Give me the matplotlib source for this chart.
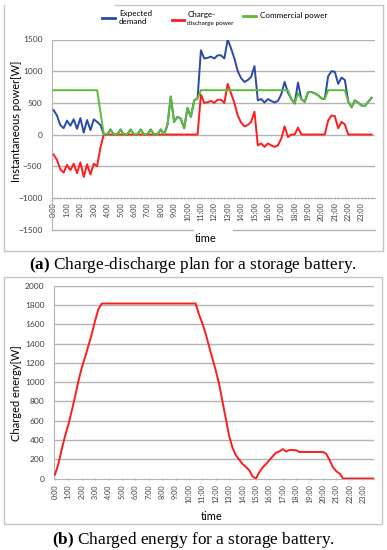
import matplotlib
matplotlib.use("Agg")
import matplotlib.pyplot as plt
from matplotlib.lines import Line2D
from matplotlib.patches import Rectangle
import numpy as np

plt.rcParams.update({
    "font.family": ["Lato", "DejaVu Sans"],
    "mathtext.fontset": "custom",
    "mathtext.rm": "Liberation Serif",
    "mathtext.bf": "Liberation Serif:bold",
})

# time of day in hours, 15-minute steps (0:00 .. 23:45)
hours = np.arange(0, 24, 0.25)
hour_labels = [f"{h}:00" for h in range(24)]

# (a) instantaneous power [W], one row per hour (:00, :15, :30, :45)
expected_demand = [
    385, 300, 150, 100,   220, 140, 240, 90,    260, 30, 230, 70,     240, 200, 150, 0,
    0, 80, 0, 0,          80, 0, 0, 80,         0, 0, 80, 0,          0, 80, 0, 0,
    80, 0, 150, 600,      200, 280, 250, 100,   420, 280, 540, 570,   1330, 1200, 1210, 1230,
    1200, 1250, 1250, 1200, 1500, 1360, 1200, 1000, 890, 830, 860, 910, 1080, 540, 560, 505,
    560, 530, 505, 530,   635, 830, 660, 560,   490, 820, 560, 515,   670, 670, 650, 620,
    570, 560, 920, 1000,  990, 800, 900, 860,   520, 430, 540, 500,   460, 450, 520, 580,
]
charge_discharge = [
    -315, -400, -550, -600, -480, -560, -460, -610, -440, -670, -470, -630, -460, -500, -200, 0,
    0, 0, 0, 0,           0, 0, 0, 0,           0, 0, 0, 0,           0, 0, 0, 0,
    0, 0, 0, 0,           0, 0, 0, 0,           0, 0, 0, 0,           630, 500, 510, 530,
    500, 550, 550, 500,   800, 650, 500, 300,   190, 130, 150, 200,   360, -170, -140, -195,
    -140, -170, -195, -170, -65, 130, -40, 0,   0, 110, 0, 0,         0, 0, 0, 0,
    0, 0, 220, 300,       290, 100, 200, 160,   0, 0, 0, 0,           0, 0, 0, 0,
]
commercial_power = [
    700, 700, 700, 700,   700, 700, 700, 700,   700, 700, 700, 700,   700, 700, 350, 0,
    0, 80, 0, 0,          80, 0, 0, 80,         0, 0, 80, 0,          0, 80, 0, 0,
    80, 0, 150, 600,      200, 280, 250, 100,   420, 280, 540, 570,   700, 700, 700, 700,
    700, 700, 700, 700,   700, 700, 700, 700,   700, 700, 700, 700,   700, 700, 700, 700,
    700, 700, 700, 700,   700, 700, 700, 560,   490, 650, 560, 515,   670, 670, 650, 620,
    570, 560, 700, 700,   700, 700, 700, 700,   520, 430, 540, 500,   460, 450, 520, 580,
]

# (b) charged energy [W]
charged_energy = [
    40, 150, 300, 440,    560, 700, 850, 1010,  1150, 1260, 1380, 1500, 1640, 1760, 1815, 1815,
    1815, 1815, 1815, 1815, 1815, 1815, 1815, 1815, 1815, 1815, 1815, 1815, 1815, 1815, 1815, 1815,
    1815, 1815, 1815, 1815, 1815, 1815, 1815, 1815, 1815, 1815, 1815, 1700, 1610, 1500, 1370, 1245,
    1120, 980, 800, 620,  440, 320, 240, 195,   150, 120, 85, 20,     0, 65, 115, 150,
    190, 230, 268, 280,   305, 280, 296, 295,   293, 275, 275, 275,   275, 275, 275, 275,
    275, 255, 190, 115,   75, 50, 0, 0,         0, 0, 0, 0,           0, 0, 0, 0,
]

BLUE, RED, GREEN = "#2b4aa3", "#ff1c1c", "#5cbd35"
GRID = "#b4b4b4"
TICK = "#404040"
W, H = 387, 550


def fx(px):
    return px / W


def fy(py):
    return 1 - py / H


fig = plt.figure(figsize=(W / 100, H / 100), dpi=100)

# chart frames
frame = dict(transform=fig.transFigure, color="#c6c6c6", lw=1)
fig.add_artist(Line2D([fx(4), fx(4)], [fy(5), fy(251)], **frame))
fig.add_artist(Line2D([fx(4), fx(383)], [fy(251), fy(251)], **frame))
fig.add_artist(Line2D([fx(383), fx(383)], [fy(251), fy(5)], **frame))
fig.add_artist(Line2D([fx(115), fx(383)], [fy(5), fy(5)], **frame))
fig.add_artist(Rectangle((fx(4), fy(524)), fx(382) - fx(4), fy(277) - fy(524),
                         transform=fig.transFigure, fill=False, ec="#c6c6c6", lw=1))

# ---- (a) charge-discharge plan -------------------------------------------
ax = fig.add_axes([fx(52), fy(229.6), fx(375) - fx(52), fy(39.5) - fy(229.6)])
ax.set_xlim(-0.12, 24.0)
ax.set_ylim(-1500, 1500)
for v in [1500, 1000, 500, 0, -500]:
    ax.axhline(v, color=GRID, lw=1, zorder=0)
x_gap0 = (193 - 52) / (375 - 52)
x_gap1 = (233 - 52) / (375 - 52)
ax.axhline(-1500, xmax=x_gap0, color=GRID, lw=1, zorder=0, clip_on=False)
ax.axhline(-1500, xmin=x_gap1, color=GRID, lw=1, zorder=0, clip_on=False)

ax.plot(hours, expected_demand, color=BLUE, lw=1.4, zorder=3)
ax.plot(hours, charge_discharge, color=RED, lw=1.4, zorder=3)
ax.plot(hours, commercial_power, color=GREEN, lw=1.4, zorder=4)

for s in ["top", "right"]:
    ax.spines[s].set_visible(False)
ax.spines["left"].set_color(GRID)
ax.spines["bottom"].set_color(GRID)
ax.spines["bottom"].set_position(("data", -1000))
ax.set_yticks([1500, 1000, 500, 0, -500, -1000, -1500])
ax.set_xticks(range(24))
ax.set_xticklabels(hour_labels, rotation=90)
ax.set_xticks(hours, minor=True)
ax.tick_params(axis="y", length=0, pad=7, labelsize=6, labelcolor=TICK)
ax.tick_params(axis="x", which="major", length=2, direction="inout", color=GRID,
               pad=2, labelsize=5.2, labelcolor=TICK)
ax.tick_params(axis="x", which="minor", length=2, direction="inout", color=GRID)
ax.patch.set_visible(False)

fig.text(fx(17), fy(121), "Instantaneous power[W]", rotation=90, ha="center",
         va="center", fontsize=8)
fig.text(fx(206), fy(238), "time", ha="center", va="center", fontsize=8)

# legend
leg = dict(transform=fig.transFigure, lw=2)
fig.add_artist(Line2D([fx(102), fx(115)], [fy(17.5), fy(17.5)], color=BLUE, **leg))
fig.text(fx(119), fy(17.5), "Expected\ndemand", fontsize=5.8, va="center",
         linespacing=1.2)
fig.add_artist(Line2D([fx(172), fx(184)], [fy(20), fy(20)], color=RED, **leg))
fig.text(fx(188), fy(14), "Charge-", fontsize=5.8, va="center")
fig.text(fx(187), fy(24), "discharge power", fontsize=4.6, va="center")
fig.add_artist(Line2D([fx(243), fx(256)], [fy(15.5), fy(15.5)], color=GREEN, **leg))
fig.text(fx(260), fy(15.5), "Commercial power", fontsize=5.9, va="center")

fig.text(fx(193), fy(265), r"$\mathbf{(a)}$ Charge-discharge plan for a storage battery.",
         ha="center", va="center", fontsize=12.4, family="Liberation Serif")

# ---- (b) charged energy ----------------------------------------------------
bx = fig.add_axes([fx(54.3), fy(478.5), fx(374.3) - fx(54.3), fy(285.7) - fy(478.5)])
bx.set_xlim(-0.05, 23.83)
bx.set_ylim(0, 2000)
bx.set_yticks(range(0, 2001, 200))
for v in range(200, 2001, 200):
    bx.axhline(v, color=GRID, lw=1, zorder=0)
bx.plot(hours, charged_energy, color=RED, lw=1.4, zorder=3)
for s in ["top", "right"]:
    bx.spines[s].set_visible(False)
bx.spines["left"].set_color(GRID)
bx.spines["bottom"].set_color(GRID)
bx.set_xticks(range(24))
bx.set_xticklabels(hour_labels, rotation=90)
bx.tick_params(axis="y", length=0, pad=7, labelsize=6, labelcolor=TICK)
bx.tick_params(axis="x", length=2, direction="inout", color=GRID, pad=3,
               labelsize=5.2, labelcolor=TICK)
bx.patch.set_visible(False)

fig.text(fx(17), fy(393), "Charged energy[W]", rotation=90, ha="center",
         va="center", fontsize=8)
fig.text(fx(212), fy(516), "time", ha="center", va="center", fontsize=8)

fig.text(fx(193.5), fy(540), r"$\mathbf{(b)}$ Charged energy for a storage battery.",
         ha="center", va="center", fontsize=12.4, family="Liberation Serif")

fig.savefig("out.png", dpi=100)
